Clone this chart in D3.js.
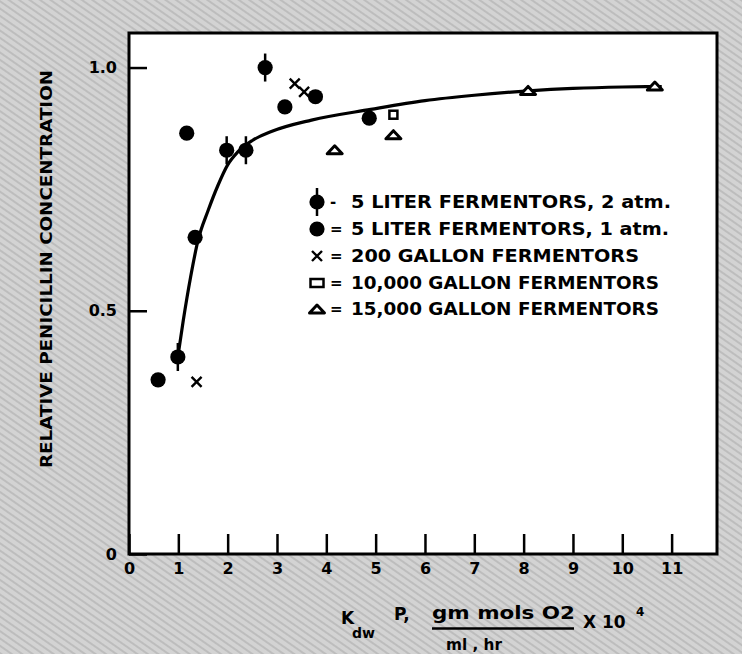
<!DOCTYPE html>
<html>
<head>
<meta charset="utf-8">
<script src="https://cdn.jsdelivr.net/npm/d3@7/dist/d3.min.js"></script>
<style>
  html, body { margin: 0; padding: 0; background: #cdcdcd; }
  svg { display: block; }
  text { font-family: "DejaVu Sans", "Liberation Sans", sans-serif; font-weight: bold; fill: #000; }
</style>
</head>
<body>
<svg id="chart" width="742" height="654"></svg>
<script>
// ---------------- data ----------------
const xTickValues = [0, 1, 2, 3, 4, 5, 6, 7, 8, 9, 10, 11];
const xTickLabels = ["0", "1", "2", "3", "4", "5", "6", "7", "8", "9", "10", "11"];
const yTickValues = [0, 0.5, 1.0];
const yTickLabels = ["0", "0.5", "1.0"];

// 5 liter fermentors, 2 atm (filled circle with bar)
const atm2X = [0.99, 1.98, 2.37, 2.76];
const atm2Y = [0.405, 0.83, 0.83, 1.0];
// 5 liter fermentors, 1 atm (filled circle)
const atm1X = [0.59, 1.17, 1.34, 3.16, 3.78, 4.87];
const atm1Y = [0.358, 0.865, 0.651, 0.919, 0.94, 0.896];
// 200 gallon fermentors (x)
const gal200X = [1.37, 3.36, 3.55];
const gal200Y = [0.354, 0.967, 0.95];
// 10,000 gallon fermentors (square)
const gal10kX = [5.36];
const gal10kY = [0.903];
// 15,000 gallon fermentors (triangle)
const gal15kX = [4.17, 5.36, 8.09, 10.66];
const gal15kY = [0.831, 0.862, 0.953, 0.962];
// fitted curve
const curveX = [0.99, 1.1, 1.25, 1.4, 1.6, 1.8, 2.0, 2.2, 2.5, 2.9, 3.7, 4.9, 6.0, 7.0, 8.1, 9.0, 10.0, 10.8];
const curveY = [0.405, 0.48, 0.57, 0.645, 0.705, 0.757, 0.80, 0.826, 0.85, 0.869, 0.892, 0.914, 0.932, 0.943, 0.952, 0.957, 0.960, 0.961];

const legendLabels = [
  "5 LITER  FERMENTORS, 2 atm.",
  "5 LITER  FERMENTORS, 1 atm.",
  "200 GALLON  FERMENTORS",
  "10,000 GALLON FERMENTORS",
  "15,000 GALLON FERMENTORS"
];
const legendSeps = ["-", "=", "=", "=", "="];
const legendKinds = ["bar", "dot", "x", "sq", "tri"];

const yTitle = "RELATIVE   PENICILLIN   CONCENTRATION";

// ---------------- drawing ----------------
const svg = d3.select("#chart");

// halftone-ish background
const defs = svg.append("defs");
const pat = defs.append("pattern").attr("id", "ht").attr("patternUnits", "userSpaceOnUse")
  .attr("width", 6).attr("height", 6).attr("patternTransform", "rotate(35)");
pat.append("rect").attr("width", 6).attr("height", 6).attr("fill", "#d3d3d3");
pat.append("rect").attr("width", 6).attr("height", 2).attr("fill", "#bdbdbd");
svg.append("rect").attr("width", 742).attr("height", 654).attr("fill", "url(#ht)");

const M = { left: 129, right: 717, top: 33, bottom: 554 };
const x = d3.scaleLinear().domain([0, 11.92]).range([M.left, M.right]);
const y = d3.scaleLinear().domain([0, 1.071]).range([M.bottom, M.top]);

// plot area
svg.append("rect").attr("x", M.left).attr("y", M.top).attr("width", M.right - M.left).attr("height", M.bottom - M.top)
  .attr("fill", "#fff").attr("stroke", "#000").attr("stroke-width", 3);

// axes
const yAxis = d3.axisLeft(y).tickValues(yTickValues).tickFormat((d, i) => yTickLabels[i])
  .tickSizeInner(-18).tickSizeOuter(0).tickPadding(12);
const gy = svg.append("g").attr("transform", `translate(${M.left},0)`).call(yAxis);
gy.select(".domain").remove();
gy.selectAll(".tick line").attr("stroke", "#000").attr("stroke-width", 2.5);
gy.selectAll(".tick text").style("font-size", "16px").style("font-family", "DejaVu Sans").style("font-weight", "bold");

const xAxis = d3.axisBottom(x).tickValues(xTickValues).tickFormat((d, i) => xTickLabels[i])
  .tickSizeInner(-20).tickSizeOuter(0).tickPadding(9);
const gx = svg.append("g").attr("transform", `translate(0,${M.bottom})`).call(xAxis);
gx.select(".domain").remove();
gx.selectAll(".tick line").attr("stroke", "#000").attr("stroke-width", 2.5);
gx.selectAll(".tick text").style("font-size", "16px").style("font-family", "DejaVu Sans").style("font-weight", "bold");

// curve
const curvePts = curveX.map((v, i) => [v, curveY[i]]);
svg.append("path").datum(curvePts)
  .attr("d", d3.line().x(d => x(d[0])).y(d => y(d[1])).curve(d3.curveMonotoneX))
  .attr("fill", "none").attr("stroke", "#000").attr("stroke-width", 3.2);

// marker painters
function drawMarker(g, kind, cx, cy, legend) {
  if (kind === "dot" || kind === "bar") {
    if (kind === "bar") {
      g.append("line").attr("x1", cx).attr("x2", cx).attr("y1", cy - 14).attr("y2", cy + 14)
        .attr("stroke", "#000").attr("stroke-width", 2.5);
    }
    g.append("circle").attr("cx", cx).attr("cy", cy).attr("r", 7.6).attr("fill", "#000");
  } else if (kind === "x") {
    const s = 5;
    g.append("path").attr("d", `M${cx - s},${cy - s}L${cx + s},${cy + s}M${cx - s},${cy + s}L${cx + s},${cy - s}`)
      .attr("stroke", "#000").attr("stroke-width", 2.4).attr("fill", "none");
  } else if (kind === "sq") {
    const w = legend ? 13 : 8, h = 8;
    g.append("rect").attr("x", cx - w / 2).attr("y", cy - h / 2).attr("width", w).attr("height", h)
      .attr("fill", "#fff").attr("stroke", "#000").attr("stroke-width", 2.5);
  } else if (kind === "tri") {
    const w = 15, h = 8;
    g.append("path").attr("d", `M${cx - w / 2},${cy + h / 2}L${cx},${cy - h / 2}L${cx + w / 2},${cy + h / 2}Z`)
      .attr("fill", "#fff").attr("stroke", "#000").attr("stroke-width", 3).attr("stroke-linejoin", "round");
  }
}

const marks = svg.append("g");
const series = [
  ["bar", atm2X, atm2Y], ["dot", atm1X, atm1Y], ["x", gal200X, gal200Y],
  ["sq", gal10kX, gal10kY], ["tri", gal15kX, gal15kY]
];
series.forEach(([kind, xs, ys]) => {
  xs.forEach((v, i) => drawMarker(marks, kind, x(v), y(ys[i]), false));
});

// legend
const legendRowY = [202, 229, 256, 283, 309];
const legendTextLen = [320, 318, 288, 308, 308];
const lg = svg.append("g");
legendLabels.forEach((lab, i) => {
  const cy = legendRowY[i];
  drawMarker(lg, legendKinds[i], 317, cy, true);
  lg.append("text").attr("x", 330).attr("y", cy).attr("dy", "0.36em")
    .style("font-size", "15px").text(legendSeps[i]);
  lg.append("text").attr("x", 351).attr("y", cy).attr("dy", "0.36em")
    .attr("textLength", legendTextLen[i]).attr("lengthAdjust", "spacingAndGlyphs")
    .style("font-size", "17px").text(lab);
});

// y title
svg.append("text").attr("transform", "translate(52,269) rotate(-90)")
  .attr("text-anchor", "middle").attr("textLength", 398).attr("lengthAdjust", "spacingAndGlyphs")
  .style("font-size", "15px").text(yTitle);

// x title
const xt = svg.append("g");
xt.append("text").attr("x", 341).attr("y", 624).style("font-size", "17px").text("K");
xt.append("text").attr("x", 352).attr("y", 638).style("font-size", "14px").text("dw");
xt.append("text").attr("x", 394).attr("y", 620).style("font-size", "17px").text("P,");
xt.append("text").attr("x", 432).attr("y", 619).attr("textLength", 143).attr("lengthAdjust", "spacingAndGlyphs")
  .style("font-size", "17px").text("gm  mols  O2");
xt.append("line").attr("x1", 432).attr("x2", 574).attr("y1", 628.5).attr("y2", 628.5)
  .attr("stroke", "#000").attr("stroke-width", 2.5);
xt.append("text").attr("x", 446).attr("y", 650).attr("textLength", 56).attr("lengthAdjust", "spacingAndGlyphs")
  .style("font-size", "15px").text("ml , hr");
xt.append("text").attr("x", 583).attr("y", 628).style("font-size", "17px").text("X 10");
xt.append("text").attr("x", 636).attr("y", 616).style("font-size", "12px").text("4");
</script>
</body>
</html>
